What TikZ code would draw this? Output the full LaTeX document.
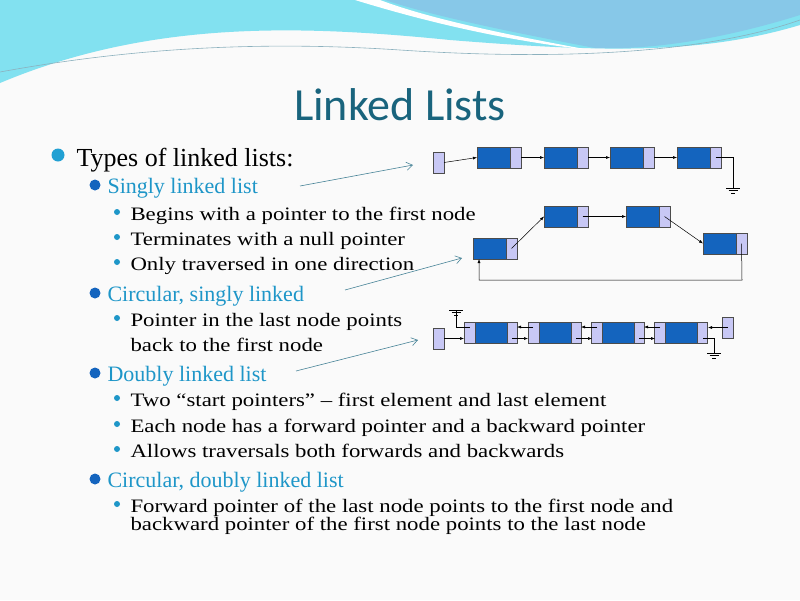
\documentclass[tikz,border=0pt]{standalone}
\usepackage{fontspec}
\setmainfont{Liberation Serif}
\newfontfamily\widefont[FakeStretch=1.2]{Liberation Serif}
\newfontfamily\titlefont{Carlito}
\usetikzlibrary{arrows.meta}
\definecolor{teal1}{RGB}{25,100,125}
\definecolor{sub}{RGB}{30,150,200}
\definecolor{dk}{RGB}{20,100,190}
\definecolor{lt}{RGB}{200,200,245}
\definecolor{wavea}{RGB}{130,225,240}
\definecolor{waveb}{RGB}{135,200,232}
\tikzset{
 dkbox/.style={draw=black!70,fill=dk,line width=0.5pt},
 ltbox/.style={draw=black!70,fill=lt,line width=0.5pt},
 ptr/.style={-{Latex[length=4pt,width=3pt]},line width=0.5pt},
 callout/.style={-{Straight Barb[length=6pt,width=8pt]},draw=teal1!80,line width=0.6pt},
 lvlone/.style={anchor=base west,font=\fontsize{26}{28}\selectfont},
 lvltwo/.style={anchor=base west,text=sub,font=\fontsize{22}{25}\selectfont},
 lvlthree/.style={anchor=base west,font=\widefont\fontsize{19}{19}\selectfont},
}
\newcommand{\sgnode}[3]{% name, x, y
 \fill[dk] (#2,#3) rectangle ++(33,21);
 \draw[ltbox] (#2+33,#3) rectangle ++(11,21);
 \draw[draw=black!70] (#2,#3) rectangle ++(44,21);
 \coordinate (#1w) at (#2,#3+10.5);
 \coordinate (#1p) at (#2+38.5,#3+10.5);}
\newcommand{\dbnode}[3]{%
 \draw[ltbox] (#2,#3) rectangle ++(11,21);
 \draw[dkbox] (#2+11,#3) rectangle ++(32,21);
 \draw[ltbox] (#2+43,#3) rectangle ++(10,21);}
\newcommand{\gnd}[2]{\draw[line width=0.5pt] (#1-7,#2)--(#1+7,#2) (#1-4.5,#2+2.5)--(#1+4.5,#2+2.5) (#1-2,#2+5)--(#1+2,#2+5);}
\begin{document}
\begin{tikzpicture}[x=1pt,y=-1pt]
\useasboundingbox (0,0) rectangle (800,600);
\fill[gray!4] (0,0) rectangle (800,600);
% wave
\fill[wavea] (0,0) -- (800,0) -- (800,25) .. controls (700,55) and (600,52) .. (450,40) .. controls (300,25) and (150,20) .. (0,83) -- cycle;
\fill[white] (355,0) .. controls (420,20) and (500,40) .. (590,50) .. controls (480,30) and (420,15) .. (380,0) -- cycle;
\fill[waveb] (385,0) -- (800,0) -- (800,15) .. controls (720,40) and (650,50) .. (595,48) .. controls (500,30) and (430,15) .. (385,0) -- cycle;
\draw[teal1!50,line width=0.6pt] (0,72) .. controls (120,50) and (250,40) .. (400,50) .. controls (550,60) and (700,55) .. (800,20);
\node (title) at (400,105) {\titlefont\fontsize{46}{50}\selectfont\color{teal1}Linked Lists};
% text
\fill[cyan!70!teal] (58,155) circle (6.5);
\node[lvlone] (t1) at (73,166) {Types of linked lists:};
\foreach \y in {185,293,373,479} \fill[dk] (95,\y) circle (5.5);
\node[lvltwo] (s1) at (104,193) {Singly linked list};
\node[lvltwo] (s2) at (104,301) {Circular, singly linked};
\node[lvltwo] (s3) at (104,381) {Doubly linked list};
\node[lvltwo] (s4) at (104,487) {Circular, doubly linked list};
\foreach \y in {214,239,264,320,400,426,451,506} \fill[sub] (117,\y-2) circle (3);
\node[lvlthree] at (127,220) {Begins with a pointer to the first node};
\node[lvlthree] at (127,245) {Terminates with a null pointer};
\node[lvlthree] at (127,270) {Only traversed in one direction};
\node[lvlthree] at (127,326) {Pointer in the last node points};
\node[lvlthree] at (127,351) {back to the first node};
\node[lvlthree] at (127,406) {Two “start pointers” – first element and last element};
\node[lvlthree] at (127,432) {Each node has a forward pointer and a backward pointer};
\node[lvlthree] at (127,457) {Allows traversals both forwards and backwards};
\node[lvlthree] at (127,512) {Forward pointer of the last node points to the first node and};
\node[lvlthree] at (127,530) {backward pointer of the first node points to the last node};
% callouts
\coordinate (c1a) at (300,186); \coordinate (c1b) at (413,165);
\coordinate (c2a) at (345,290); \coordinate (c2b) at (462,258);
\coordinate (c3a) at (296,371); \coordinate (c3b) at (418,340);
\draw[callout] (c1a)--(c1b); \draw[callout] (c2a)--(c2b); \draw[callout] (c3a)--(c3b);
% singly
\draw[ltbox] (433,152) rectangle (444,173);
\coordinate (h1) at (444,162.5);
\sgnode{a}{477}{147}\sgnode{b}{544}{147}\sgnode{c}{610}{147}\sgnode{d}{677}{147}
\draw[ptr] (h1)--(aw);
\draw[ptr] (ap)++(5.5,0)--(bw);
\draw[ptr] (bp)++(5.5,0)--(cw);
\draw[ptr] (cp)++(5.5,0)--(dw);
\draw[line width=0.5pt] (dp)--(733,157.5)--(733,188);
\gnd{733}{188}
% circular singly
\sgnode{e}{473}{238}\sgnode{f}{544}{206}\sgnode{g}{626}{206}\sgnode{h}{703}{233}
\draw[ptr] (ep)--(fw);
\draw[ptr] (fp)--(gw);
\draw[ptr] (gp)--(hw);
\coordinate (ea) at (479,259);
\draw[ptr] (hp)--(742,280)--(479,280)--(ea);
% doubly
\draw[ltbox] (433,328) rectangle (444,349);
\dbnode{}{464}{322}\dbnode{}{528}{322}\dbnode{}{591}{322}\dbnode{}{654}{322}
\draw[ltbox] (722,317) rectangle (733,338);
\draw[ptr] (444,338.5)--(464,338.5);
\foreach \x in {517,581,644} {
  \draw[ptr] (\x-5,338.5)--(\x+11,338.5);
  \draw[ptr] (\x+16,327)--(\x,327);}
\draw[ptr] (727.5,327.5)--(708,327.5);
\draw[line width=0.5pt] (469.5,327)--(456,327)--(456,310);
\gnd{456}{310}
\draw[line width=0.5pt] (703,338.5)--(714,338.5)--(714,353);
\gnd{714}{353}
\end{tikzpicture}
\end{document}
